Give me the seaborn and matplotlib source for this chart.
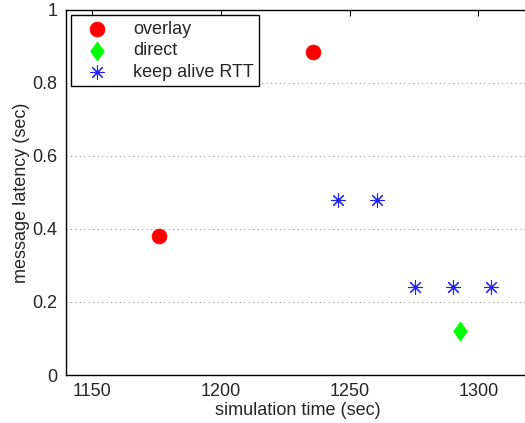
import matplotlib
matplotlib.use("Agg")
import matplotlib.pyplot as plt
import seaborn as sns
import pandas as pd

# values
overlay_t = [1176, 1236]
overlay_lat = [0.38, 0.885]
direct_t = [1293]
direct_lat = [0.12]
rtt_t = [1245.5, 1260.5, 1275.5, 1290, 1305]
rtt_lat = [0.48, 0.48, 0.24, 0.24, 0.24]

x_ticks = [1150, 1200, 1250, 1300]
y_ticks = [0, 0.2, 0.4, 0.6, 0.8, 1]

sns.set_style("white")
plt.rcParams["font.family"] = ["Liberation Sans", "DejaVu Sans"]
plt.rcParams["font.size"] = 13

fig = plt.figure(figsize=(5.25, 4.23), dpi=100)
ax = fig.add_axes([66 / 525, 1 - 375 / 423, 464 / 525, 365 / 423])

# MATLAB-ish diamond: a bit taller than wide
diamond = [(0, 1), (0.72, 0), (0, -1), (-0.72, 0), (0, 1)]

sns.scatterplot(x=overlay_t, y=overlay_lat, ax=ax, marker="o", s=115,
                color="#ff0000", edgecolor="#ff0000", linewidth=0.5, label="overlay")
sns.scatterplot(x=direct_t, y=direct_lat, ax=ax, marker=diamond, s=190,
                color="#00ff00", edgecolor="#00ff00", linewidth=0.5, label="direct")
sns.scatterplot(x=rtt_t, y=rtt_lat, ax=ax, marker=(8, 2, 0), s=100,
                color="#2020ff", linewidth=0.8, label="keep alive RTT")

ax.set_xlim(1140, 1320)
ax.set_ylim(0, 1)
ax.set_xticks(x_ticks)
ax.set_yticks(y_ticks)
ax.set_yticklabels(["0", "0.2", "0.4", "0.6", "0.8", "1"])
ax.yaxis.grid(True, linestyle=(0, (1, 3)), color="#999999", linewidth=0.8)
ax.xaxis.grid(False)
ax.tick_params(direction="in", length=4, width=0.8, top=True, right=False,
               labelsize=13, color="black", pad=6)
for side in ["left", "bottom", "top"]:
    ax.spines[side].set_color("black")
    ax.spines[side].set_linewidth(1.0)
ax.spines["right"].set_visible(False)

ax.set_xlabel("simulation time (sec)", fontsize=13, labelpad=1)
ax.set_ylabel("message latency (sec)", fontsize=13, labelpad=2)

leg = ax.legend(loc="upper left", fontsize=13, frameon=True, fancybox=False,
                borderaxespad=0.3, handletextpad=0.9, labelspacing=0.25,
                borderpad=0.3, handlelength=2.2)
leg.get_frame().set_edgecolor("black")
leg.get_frame().set_linewidth(1.0)
leg.get_frame().set_alpha(1)

fig.savefig("out.png", dpi=100, facecolor="white")
